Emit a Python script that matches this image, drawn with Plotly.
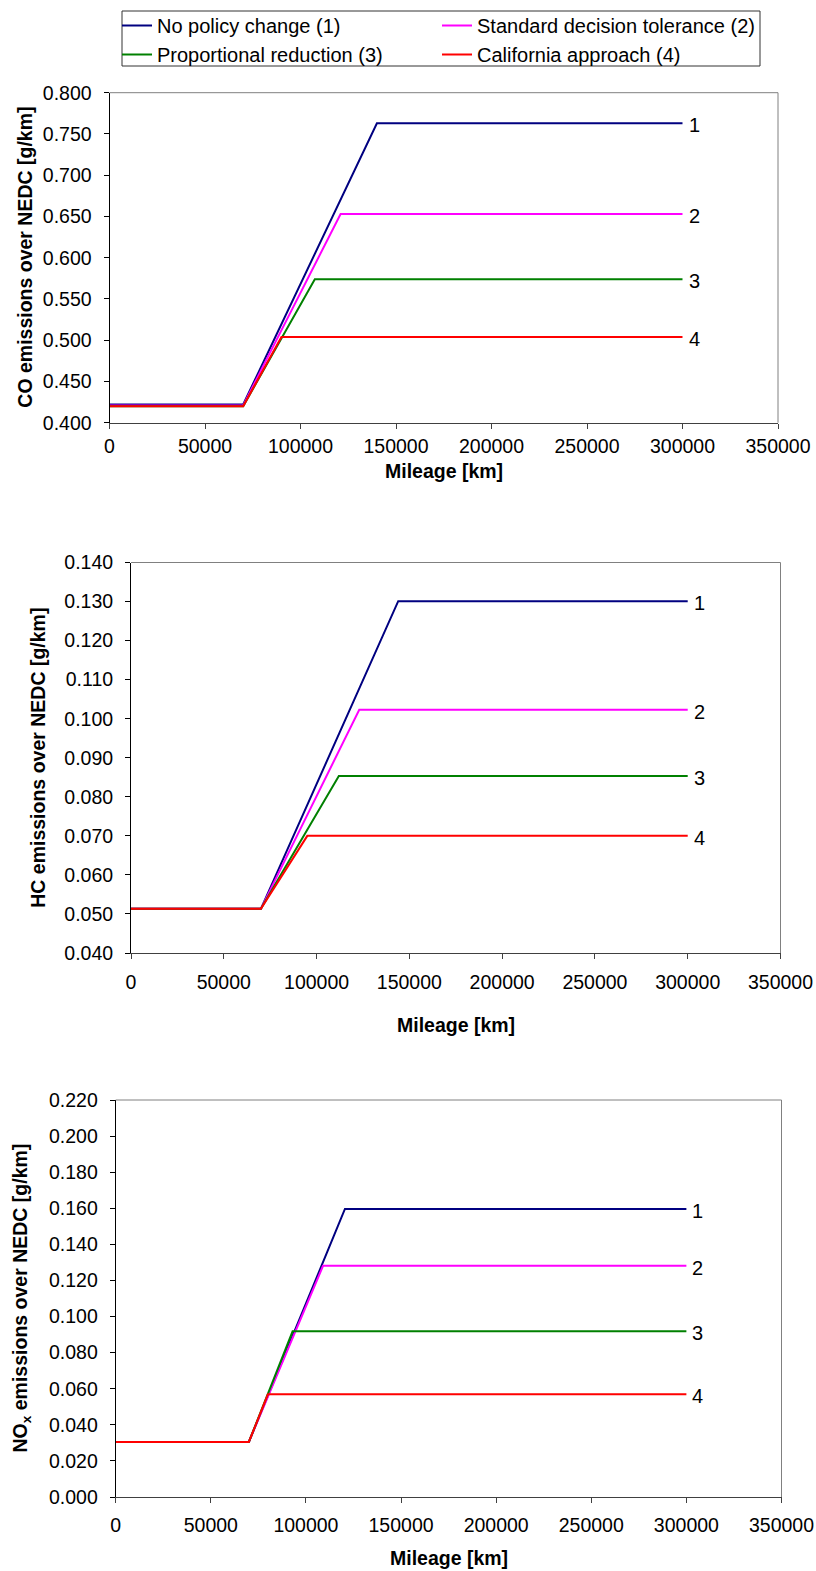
import plotly.graph_objects as go

W, H = 816, 1571

scenarios = ["No policy change (1)", "Standard decision tolerance (2)",
             "Proportional reduction (3)", "California approach (4)"]
scenario_numbers = ["1", "2", "3", "4"]
colors = ["#000080", "#FF00FF", "#008000", "#FF0000"]
legend_column = ["legend", "legend2", "legend", "legend2"]

# CO [g/km]
co_mileage = [[0, 70000, 140000, 300000],
              [0, 70000, 121000, 300000],
              [0, 70000, 107500, 300000],
              [0, 70000, 90000, 300000]]
co_values = [[0.422, 0.422, 0.763, 0.763],
             [0.421, 0.421, 0.653, 0.653],
             [0.420, 0.420, 0.574, 0.574],
             [0.420, 0.420, 0.504, 0.504]]

# HC [g/km]
hc_mileage = [[0, 70000, 144000, 300000],
              [0, 70000, 123000, 300000],
              [0, 70000, 112000, 300000],
              [0, 70000, 95000, 300000]]
hc_values = [[0.0513, 0.0513, 0.1301, 0.1301],
             [0.0513, 0.0513, 0.1023, 0.1023],
             [0.0513, 0.0513, 0.0853, 0.0853],
             [0.0513, 0.0513, 0.0700, 0.0700]]

# NOx [g/km]
nox_mileage = [[0, 70000, 120500, 300000],
               [0, 70000, 109000, 300000],
               [0, 70000, 93000, 300000],
               [0, 70000, 80000, 300000]]
nox_values = [[0.0305, 0.0305, 0.1596, 0.1596],
              [0.0305, 0.0305, 0.1281, 0.1281],
              [0.0305, 0.0305, 0.0918, 0.0918],
              [0.0305, 0.0305, 0.0569, 0.0569]]

x_ticks = [0, 50000, 100000, 150000, 200000, 250000, 300000, 350000]

panels = [
    dict(mileage=co_mileage, values=co_values, yrange=[0.4, 0.8], dtick=0.05,
         ytitle="<b>CO emissions over NEDC [g/km]</b>",
         box=(109.5, 778, 92.7, 422.7), ytitle_x=25, xtitle_y=471, xstand=1),
    dict(mileage=hc_mileage, values=hc_values, yrange=[0.04, 0.14], dtick=0.01,
         ytitle="<b>HC emissions over NEDC [g/km]</b>",
         box=(131, 780.5, 562.5, 953), ytitle_x=38, xtitle_y=1025, xstand=7),
    dict(mileage=nox_mileage, values=nox_values, yrange=[0.0, 0.22], dtick=0.02,
         ytitle="<b>NO<sub>x</sub> emissions over NEDC [g/km]</b>",
         box=(115.7, 781.5, 1100, 1497), ytitle_x=21, xtitle_y=1558, xstand=6),
]

FONT = "Liberation Sans, Arial, sans-serif"
fig = go.Figure()
annotations = []
shapes = []
layout = {}

for p_i, p in enumerate(panels):
    sfx = "" if p_i == 0 else str(p_i + 1)
    xa, ya = "x" + sfx, "y" + sfx
    for s_i in range(4):
        fig.add_trace(go.Scatter(
            x=p["mileage"][s_i], y=p["values"][s_i], mode="lines",
            line=dict(color=colors[s_i], width=2),
            name=scenarios[s_i], showlegend=(p_i == 0),
            legend=legend_column[s_i],
            xaxis=xa, yaxis=ya, hoverinfo="skip"))
        annotations.append(dict(
            x=p["mileage"][s_i][-1], y=p["values"][s_i][-1], xref=xa, yref=ya,
            text=scenario_numbers[s_i], showarrow=False, xanchor="left",
            yanchor="middle", xshift=4, yshift=-2,
            font=dict(size=20, color="black", family=FONT)))
    x0, x1, y0, y1 = p["box"]
    layout["xaxis" + sfx] = dict(
        domain=[x0 / W, x1 / W], anchor=ya, range=[0, 350000],
        tickvals=x_ticks, tickformat="d", ticks="outside", ticklen=5,
        tickcolor="#404040", showline=True, linecolor="#404040", linewidth=1,
        showgrid=False, zeroline=False, automargin=False,
        tickfont=dict(size=19.5, color="black", family=FONT),
        ticklabelstandoff=p["xstand"])
    layout["yaxis" + sfx] = dict(
        domain=[1 - y1 / H, 1 - y0 / H], anchor=xa, range=p["yrange"],
        dtick=p["dtick"], tick0=0, tickformat=".3f", ticks="outside", ticklen=5,
        tickcolor="black", showline=True, linecolor="black", linewidth=1,
        showgrid=False, zeroline=False, automargin=False,
        tickfont=dict(size=19.5, color="black", family=FONT),
        ticklabelstandoff=8)
    # top and right frame of the plot area
    shapes.append(dict(type="line", xref=xa + " domain", yref=ya + " domain",
                       x0=0, x1=1, y0=1, y1=1, line=dict(color="#808080", width=1)))
    shapes.append(dict(type="line", xref=xa + " domain", yref=ya + " domain",
                       x0=1, x1=1, y0=0, y1=1, line=dict(color="#808080", width=1)))
    annotations.append(dict(
        x=p["ytitle_x"] / W, y=1 - (y0 + y1) / 2 / H, xref="paper", yref="paper",
        text=p["ytitle"], textangle=-90, showarrow=False,
        xanchor="center", yanchor="middle",
        font=dict(size=19.5, color="black", family=FONT)))
    annotations.append(dict(
        x=(x0 + x1) / 2 / W, y=1 - p["xtitle_y"] / H, xref="paper", yref="paper",
        text="<b>Mileage [km]</b>", showarrow=False,
        xanchor="center", yanchor="middle",
        font=dict(size=19.5, color="black", family=FONT)))

# legend frame
shapes.append(dict(type="rect", xref="paper", yref="paper",
                   x0=122 / W, x1=760 / W, y0=1 - 11 / H, y1=1 - 66 / H,
                   line=dict(color="#333333", width=1), fillcolor="rgba(0,0,0,0)"))

legend_common = dict(xanchor="left", yanchor="top", borderwidth=0,
                     bgcolor="rgba(0,0,0,0)", orientation="v",
                     font=dict(size=20, color="black", family=FONT),
                     itemwidth=30, tracegroupgap=0, traceorder="normal")

fig.update_layout(
    width=W, height=H, template="none",
    margin=dict(l=0, r=0, t=0, b=0),
    paper_bgcolor="white", plot_bgcolor="white",
    font=dict(family=FONT, size=19, color="black"),
    showlegend=True,
    legend=dict(x=117 / W, y=1 - 6 / H, **legend_common),
    legend2=dict(x=437 / W, y=1 - 6 / H, **legend_common),
    annotations=annotations, shapes=shapes, **layout)

fig.write_html("out.html")
